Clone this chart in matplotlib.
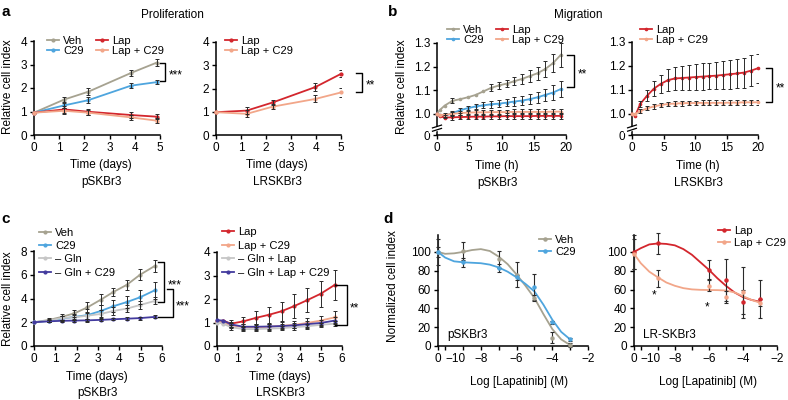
import numpy as np
import matplotlib
matplotlib.use("Agg")
import matplotlib.pyplot as plt
from matplotlib.lines import Line2D

plt.rcParams['font.family'] = ['Liberation Sans', 'DejaVu Sans']

W, H = 788, 400

# colours
VEH = '#a6a290'
C29 = '#4ea5de'
LAP = '#d3262d'
LAPC29 = '#f2a689'
GLN = '#c6c6c6'
GLNC29 = '#433b9e'
ERR = '#2a2a2a'

# ============== a: proliferation ==============
t_aL = [0, 1.2, 2.15, 3.85, 4.87]
veh_aL = [0.95, 1.51, 1.84, 2.64, 3.08]
veh_aL_err = [0, 0.12, 0.15, 0.12, 0.15]
c29_aL = [0.95, 1.26, 1.48, 2.10, 2.25]
c29_aL_err = [0, 0.10, 0.12, 0.12, 0.10]
lap_aL = [0.95, 1.09, 0.99, 0.85, 0.78]
lap_aL_err = [0, 0.15, 0.13, 0.12, 0.12]
lapc29_aL = [0.95, 1.03, 0.95, 0.75, 0.61]
lapc29_aL_err = [0, 0.12, 0.10, 0.12, 0.12]

t_aR = [0, 1.23, 2.27, 3.97, 5.0]
lap_aR = [0.98, 1.05, 1.40, 2.06, 2.63]
lap_aR_err = [0, 0.15, 0.12, 0.18, 0.15]
lapc29_aR = [0.98, 0.91, 1.22, 1.55, 1.83]
lapc29_aR_err = [0, 0.15, 0.12, 0.15, 0.18]

# ============== b: migration ==============
t_bL = [0, 0.4, 1.2, 2.4, 3.6, 4.8, 6.0, 7.2, 8.4, 9.6, 10.8, 12.0, 13.2, 14.4, 15.6, 16.8, 18.0, 19.2]
veh_bL = [1.000, 1.015, 1.035, 1.055, 1.062, 1.070, 1.080, 1.095, 1.110, 1.120, 1.128, 1.138, 1.148, 1.160, 1.172, 1.190, 1.215, 1.250]
veh_bL_err = [0, 0, 0, 0.010, 0, 0, 0, 0, 0.015, 0.015, 0.015, 0.018, 0.020, 0.024, 0.028, 0.035, 0.040, 0.050]
c29_bL = [1.000, 0.995, 0.990, 1.003, 1.015, 1.024, 1.031, 1.036, 1.040, 1.043, 1.047, 1.052, 1.056, 1.062, 1.070, 1.080, 1.090, 1.105]
c29_bL_err = [0, 0, 0.006, 0.008, 0.010, 0.011, 0.012, 0.013, 0.014, 0.015, 0.016, 0.018, 0.019, 0.021, 0.023, 0.026, 0.030, 0.032]
lap_bL = [1.000, 0.990, 0.984, 0.985, 0.986, 0.987, 0.988, 0.988, 0.989, 0.989, 0.990, 0.990, 0.990, 0.990, 0.991, 0.991, 0.991, 0.991]
lap_bL_err = [0, 0, 0, 0.010, 0.010, 0.011, 0.011, 0.012, 0.012, 0.012, 0.012, 0.012, 0.013, 0.013, 0.013, 0.013, 0.013, 0.013]
lapc29_bL = [1.000, 0.996, 0.995, 1.000, 1.003, 1.005, 1.006, 1.006, 1.007, 1.007, 1.007, 1.008, 1.008, 1.008, 1.008, 1.008, 1.009, 1.009]
lapc29_bL_err = [0, 0, 0.008, 0.009, 0.010, 0.010, 0.010, 0.011, 0.011, 0.011, 0.011, 0.011, 0.011, 0.011, 0.011, 0.011, 0.012, 0.012]

t_bR = [0, 0.5, 1.3, 2.4, 3.5, 4.6, 5.7, 6.8, 7.9, 9.0, 10.1, 11.2, 12.3, 13.4, 14.5, 15.6, 16.7, 17.8, 18.9, 20.0]
lap_bR = [1.000, 0.990, 1.040, 1.075, 1.105, 1.125, 1.140, 1.147, 1.149, 1.151, 1.153, 1.155, 1.157, 1.159, 1.162, 1.165, 1.168, 1.172, 1.180, 1.190]
lap_bR_err = [0, 0, 0.012, 0.022, 0.030, 0.038, 0.045, 0.048, 0.050, 0.052, 0.054, 0.055, 0.056, 0.057, 0.058, 0.060, 0.062, 0.063, 0.064, 0.060]
lapc29_bR = [1.000, 0.998, 1.010, 1.022, 1.030, 1.036, 1.040, 1.042, 1.043, 1.044, 1.044, 1.045, 1.045, 1.045, 1.045, 1.046, 1.046, 1.047, 1.047, 1.047]
lapc29_bR_err = [0, 0, 0.008, 0.009, 0.010, 0.010, 0.010, 0.010, 0.010, 0.010, 0.010, 0.010, 0.010, 0.010, 0.010, 0.010, 0.010, 0.010, 0.010, 0.010]

# ============== c: glutamine ==============
t_cL = [0, 0.72, 1.3, 1.89, 2.5, 3.13, 3.72, 4.35, 4.97, 5.67]
veh_cL = [2.0, 2.2, 2.45, 2.75, 3.25, 3.9, 4.55, 5.15, 6.0, 6.75]
veh_cL_err = [0, 0.15, 0.25, 0.3, 0.45, 0.45, 0.35, 0.4, 0.45, 0.5]
c29_cL = [2.0, 2.12, 2.3, 2.45, 2.6, 2.95, 3.35, 3.7, 4.1, 4.7]
c29_cL_err = [0, 0.1, 0.2, 0.25, 0.5, 0.5, 0.5, 0.5, 0.6, 0.7]
gln_cL = [2.0, 2.15, 2.35, 2.42, 2.55, 2.7, 2.95, 3.15, 3.45, 3.8]
gln_cL_err = [0, 0.1, 0.15, 0.2, 0.3, 0.35, 0.3, 0.3, 0.3, 0.3]
glnc29_cL = [2.0, 2.08, 2.12, 2.14, 2.16, 2.2, 2.25, 2.3, 2.35, 2.45]
glnc29_cL_err = [0, 0.08, 0.1, 0.1, 0.12, 0.1, 0.1, 0.12, 0.12, 0.12]

t_cR = [0, 0.3, 0.67, 1.27, 1.88, 2.5, 3.1, 3.71, 4.33, 4.97, 5.65]
lap_cR = [1.05, 1.08, 0.95, 1.05, 1.2, 1.33, 1.48, 1.7, 1.95, 2.22, 2.6]
lap_cR_err = [0, 0, 0.15, 0.2, 0.3, 0.35, 0.4, 0.5, 0.5, 0.55, 0.65]
lapc29_cR = [1.05, 1.0, 0.88, 0.8, 0.8, 0.82, 0.86, 0.9, 0.98, 1.08, 1.22]
lapc29_cR_err = [0, 0, 0.12, 0.12, 0.12, 0.12, 0.15, 0.15, 0.2, 0.2, 0.25]
glnlap_cR = [1.0, 0.95, 0.8, 0.72, 0.72, 0.74, 0.76, 0.8, 0.84, 0.9, 0.95]
glnlap_cR_err = [0, 0, 0.1, 0.1, 0.1, 0.1, 0.1, 0.1, 0.1, 0.1, 0.1]
glnlapc29_cR = [1.1, 1.08, 0.92, 0.82, 0.82, 0.83, 0.85, 0.88, 0.93, 0.98, 1.08]
glnlapc29_cR_err = [0, 0, 0.1, 0.1, 0.1, 0.1, 0.1, 0.12, 0.12, 0.12, 0.15]

# ============== d: dose response ==============
# the vehicle (0 M) point sits on the left end of the log axis
X_ZERO = -10.4
conc_dL = [X_ZERO, -9, -7, -6, -5, -4, -3]
veh_dL = [100, 101, 92, 76, 51, 9, 1]
veh_dL_err = [14, 10, 9, 13, 3, 6, 2]
c29_dL = [100, 89, 83, 73, 63, 25, 7]
c29_dL_err = [5, 5, 4, 3, 14, 2, 2]

conc_dR = [X_ZERO, -9, -6, -5, -4, -3]
lap_dR = [100, 109, 81, 70, 47, 50]
lap_dR_err = [18, 11, 10, 22, 13, 20]
lapc29_dR = [98, 72, 64, 52, 57, 46]
lapc29_dR_err = [16, 9, 6, 6, 27, 4]

# fitted curves
fit_x = [X_ZERO, -10, -9.5, -9, -8.5, -8, -7.5, -7, -6.5, -6, -5.5, -5, -4.5, -4, -3.5, -3]
veh_fit = [100, 98, 98.5, 100, 102, 103, 101, 95, 87, 76, 64, 51, 34, 18, 7, 1]
c29_fit = [100, 94, 90, 89, 88.5, 88, 86.5, 83.5, 79, 73, 66, 58, 44, 28, 15, 7]
lap_fit = [100, 104, 108, 109, 108.5, 107, 103, 97, 89, 81, 72, 64, 57, 52, 49, 47]
lapc29_fit = [98, 88, 79, 73, 67.5, 64, 61.5, 60.2, 59.7, 59.5, 59.4, 59, 57, 53, 49, 46]

fig = plt.figure(figsize=(W / 100, H / 100), dpi=100)


def ftext(x, y, s, **kw):
    """Text placed in figure pixels (y from top)."""
    kw.setdefault('ha', 'center')
    kw.setdefault('va', 'center')
    kw.setdefault('fontsize', 8.5)
    fig.text(x / W, 1 - y / H, s, **kw)


def add_ax(l, t, r, b):
    ax = fig.add_axes([l / W, 1 - b / H, (r - l) / W, (b - t) / H])
    ax.spines['top'].set_visible(False)
    ax.spines['right'].set_visible(False)
    for s in ('left', 'bottom'):
        ax.spines[s].set_linewidth(1.1)
    ax.tick_params(which='both', direction='out', length=3, width=1.0,
                   labelsize=8.5, pad=2)
    ax.patch.set_alpha(0)
    return ax


def series(ax, x, y, err, color, label, ms=2):
    x, y, err = np.asarray(x), np.asarray(y), np.asarray(err)
    m = err > 0
    line, = ax.plot(x, y, color=color, lw=1.3, marker='o', ms=ms,
                    zorder=3, label=label, clip_on=False)
    ax.errorbar(x[m], y[m], yerr=err[m], fmt='none', ecolor=ERR,
                elinewidth=0.7, capsize=1.3, capthick=0.7, zorder=4)
    return line


def bracket(ax, x0, x1, ytop, ybot, stars, x0_bot=None):
    xb = x0 if x0_bot is None else x0_bot
    ax.plot([x0, x1, x1, xb], [ytop, ytop, ybot, ybot], color='k',
            lw=1.0, clip_on=False, zorder=5)
    ax.annotate(stars, (x1, (ytop + ybot) / 2), xytext=(2.5, -2.5),
                textcoords='offset points', ha='left', va='center',
                fontsize=8.5, annotation_clip=False)


def legend(ax, handles, x, y, ncol=1, spacing=0.0, colsp=1.1):
    ax.legend(handles=handles, loc='upper left',
              bbox_to_anchor=(x / W, 1 - y / H), bbox_transform=fig.transFigure,
              ncol=ncol, frameon=False, fontsize=8, handlelength=1.1,
              handletextpad=0.35, labelspacing=spacing, columnspacing=colsp,
              borderpad=0, borderaxespad=0)


def axis_break(ax, yb):
    """Two slanted strokes on the y axis, as in the original."""
    tr = ax.get_yaxis_transform()
    ax.plot([-0.05, 0.05], [yb - 0.012, yb + 0.002], transform=tr,
            color='w', lw=3, clip_on=False, zorder=6)
    for dy in (-0.008, 0.006):
        ax.plot([-0.035, 0.035], [yb + dy - 0.006, yb + dy + 0.006],
                transform=tr, color='k', lw=0.9, clip_on=False, zorder=7)


# ---- panel a ----
ax = add_ax(34, 41, 160, 135)
h1 = series(ax, t_aL, veh_aL, veh_aL_err, VEH, 'Veh')
h2 = series(ax, t_aL, c29_aL, c29_aL_err, C29, 'C29')
h3 = series(ax, t_aL, lap_aL, lap_aL_err, LAP, 'Lap')
h4 = series(ax, t_aL, lapc29_aL, lapc29_aL_err, LAPC29, 'Lap + C29')
ax.set_xlim(0, 5)
ax.set_ylim(0, 4)
ax.set_xticks(range(6))
ax.set_yticks(range(5))
bracket(ax, 5.0, 5.2, 3.07, 2.29, '***')
legend(ax, [h1, h2, h3, h4], 47, 35.5, ncol=2)

ax = add_ax(216, 42, 341, 135)
h1 = series(ax, t_aR, lap_aR, lap_aR_err, LAP, 'Lap')
h2 = series(ax, t_aR, lapc29_aR, lapc29_aR_err, LAPC29, 'Lap + C29')
ax.set_xlim(0, 5)
ax.set_ylim(0, 4)
ax.set_xticks(range(6))
ax.set_yticks(range(5))
bracket(ax, 5.59, 5.84, 2.68, 1.86, '**')
legend(ax, [h1, h2], 225, 35.5)

# ---- panel b ----
for (l, t, r, b), xs, curves, br, lg in [
    ((437, 43, 566, 135), t_bL,
     [(veh_bL, veh_bL_err, VEH, 'Veh'), (c29_bL, c29_bL_err, C29, 'C29'),
      (lap_bL, lap_bL_err, LAP, 'Lap'), (lapc29_bL, lapc29_bL_err, LAPC29, 'Lap + C29')],
     (20.2, 21.3, 1.25, 1.115), (447, 25, 2)),
    ((632, 42, 758, 135), t_bR,
     [(lap_bR, lap_bR_err, LAP, 'Lap'), (lapc29_bR, lapc29_bR_err, LAPC29, 'Lap + C29')],
     (21.3, 22.3, 1.19, 1.048), (640, 25, 1)),
]:
    ax = add_ax(l, t, r, b)
    hs = [series(ax, xs, y, e, c, lab, ms=1.6) for y, e, c, lab in curves]
    ax.set_xlim(0, 20)
    ax.set_ylim(0.91, 1.3)
    ax.set_xticks([0, 5, 10, 15, 20])
    ax.set_yticks([0.91, 1.0, 1.1, 1.2, 1.3])
    ax.set_yticklabels(['0', '1.0', '1.1', '1.2', '1.3'])
    axis_break(ax, 0.94)
    bracket(ax, br[0], br[1], br[2], br[3], '**')
    legend(ax, hs, lg[0], lg[1], ncol=lg[2], spacing=0.02)

# ---- panel c ----
ax = add_ax(34, 251, 162, 346)
h1 = series(ax, t_cL, veh_cL, veh_cL_err, VEH, 'Veh')
h2 = series(ax, t_cL, c29_cL, c29_cL_err, C29, 'C29')
h3 = series(ax, t_cL, gln_cL, gln_cL_err, GLN, '\u2013 Gln')
h4 = series(ax, t_cL, glnc29_cL, glnc29_cL_err, GLNC29, '\u2013 Gln + C29')
ax.set_xlim(0, 6)
ax.set_ylim(0, 8)
ax.set_xticks(range(7))
ax.set_yticks([0, 2, 4, 6, 8])
bracket(ax, 5.83, 6.1, 7.1, 3.73, '***')
bracket(ax, 6.22, 6.5, 4.77, 2.45, '***', x0_bot=5.83)
legend(ax, [h1, h2, h3, h4], 39, 227.5, spacing=0.3)

ax = add_ax(217, 252, 342, 346)
h1 = series(ax, t_cR, lap_cR, lap_cR_err, LAP, 'Lap')
h2 = series(ax, t_cR, lapc29_cR, lapc29_cR_err, LAPC29, 'Lap + C29')
h3 = series(ax, t_cR, glnlap_cR, glnlap_cR_err, GLN, '\u2013 Gln + Lap')
h4 = series(ax, t_cR, glnlapc29_cR, glnlapc29_cR_err, GLNC29, '\u2013 Gln + Lap + C29')
ax.set_xlim(0, 6)
ax.set_ylim(0, 4)
ax.set_xticks(range(7))
ax.set_yticks(range(5))
bracket(ax, 5.67, 6.22, 2.6, 0.89, '**')
legend(ax, [h1, h2, h3, h4], 222, 227, spacing=0.32)

# ---- panel d ----
for (l, r), conc, pts, fits, lg, name in [
    ((438, 588), conc_dL,
     [(veh_dL, veh_dL_err, VEH, 'Veh'), (c29_dL, c29_dL_err, C29, 'C29')],
     [veh_fit, c29_fit], (539, 234.5), 'pSKBr3'),
    ((634, 777), conc_dR,
     [(lap_dR, lap_dR_err, LAP, 'Lap'), (lapc29_dR, lapc29_dR_err, LAPC29, 'Lap + C29')],
     [lap_fit, lapc29_fit], (718, 226), 'LR-SKBr3'),
]:
    ax = add_ax(l, 235, r, 346)
    hs = []
    for (y, e, c, lab), fy in zip(pts, fits):
        ax.plot(fit_x, fy, color=c, lw=1.3, zorder=3, clip_on=False)
        ax.errorbar(conc, y, yerr=e, fmt='none', ecolor=ERR, elinewidth=0.8,
                    capsize=1.5, capthick=0.8, zorder=4, clip_on=False)
        ax.plot(conc, y, 'o', color=c, ms=2.2, zorder=5, clip_on=False)
        hs.append(Line2D([], [], color=c, lw=1.3, marker='o', ms=2.2, label=lab))
    ax.set_xlim(X_ZERO, -2)
    ax.set_ylim(0, 118)
    ax.set_xticks([X_ZERO, -10, -8, -6, -4, -2])
    ax.set_xticklabels(['0', '\u221210', '\u22128', '\u22126', '\u22124', '\u22122'])
    ax.get_xticklabels()[1].set_ha('left')
    ax.set_xticks([-9, -7, -5, -3], minor=True)
    ax.set_yticks([0, 20, 40, 60, 80, 100])
    ax.text(0.06, 0.095, name, transform=ax.transAxes, fontsize=8.5,
            ha='left', va='center')
    legend(ax, hs, lg[0], lg[1], spacing=0.2)

# significance stars in d, right
ax.text(-9.2, 53.5, '*', ha='center', va='center', fontsize=8.5)
ax.text(-6.1, 41.5, '*', ha='center', va='center', fontsize=8.5)

# ---- texts ----
ftext(6, 12, 'a', fontsize=11, fontweight='bold')
ftext(393, 12, 'b', fontsize=11, fontweight='bold')
ftext(6, 219, 'c', fontsize=11, fontweight='bold')
ftext(388, 219, 'd', fontsize=11, fontweight='bold')

ftext(172, 15, 'Proliferation')
ftext(578, 15, 'Migration')

ftext(8, 87, 'Relative cell index', rotation=90)
ftext(402, 87, 'Relative cell index', rotation=90)
ftext(8, 299, 'Relative cell index', rotation=90)
ftext(393, 286, 'Normalized cell index', rotation=90)

ftext(101, 165, 'Time (days)')
ftext(101, 182, 'pSKBr3')
ftext(277, 165, 'Time (days)')
ftext(277, 182, 'LRSKBr3')
ftext(497, 166, 'Time (h)')
ftext(497, 183, 'pSKBr3')
ftext(698, 166, 'Time (h)')
ftext(698, 183, 'LRSKBr3')
ftext(97, 377, 'Time (days)')
ftext(97, 393, 'pSKBr3')
ftext(280, 377, 'Time (days)')
ftext(280, 393, 'LRSKBr3')
ftext(519, 382, 'Log [Lapatinib] (M)')
ftext(708, 382, 'Log [Lapatinib] (M)')

fig.savefig('out.png', dpi=100)
